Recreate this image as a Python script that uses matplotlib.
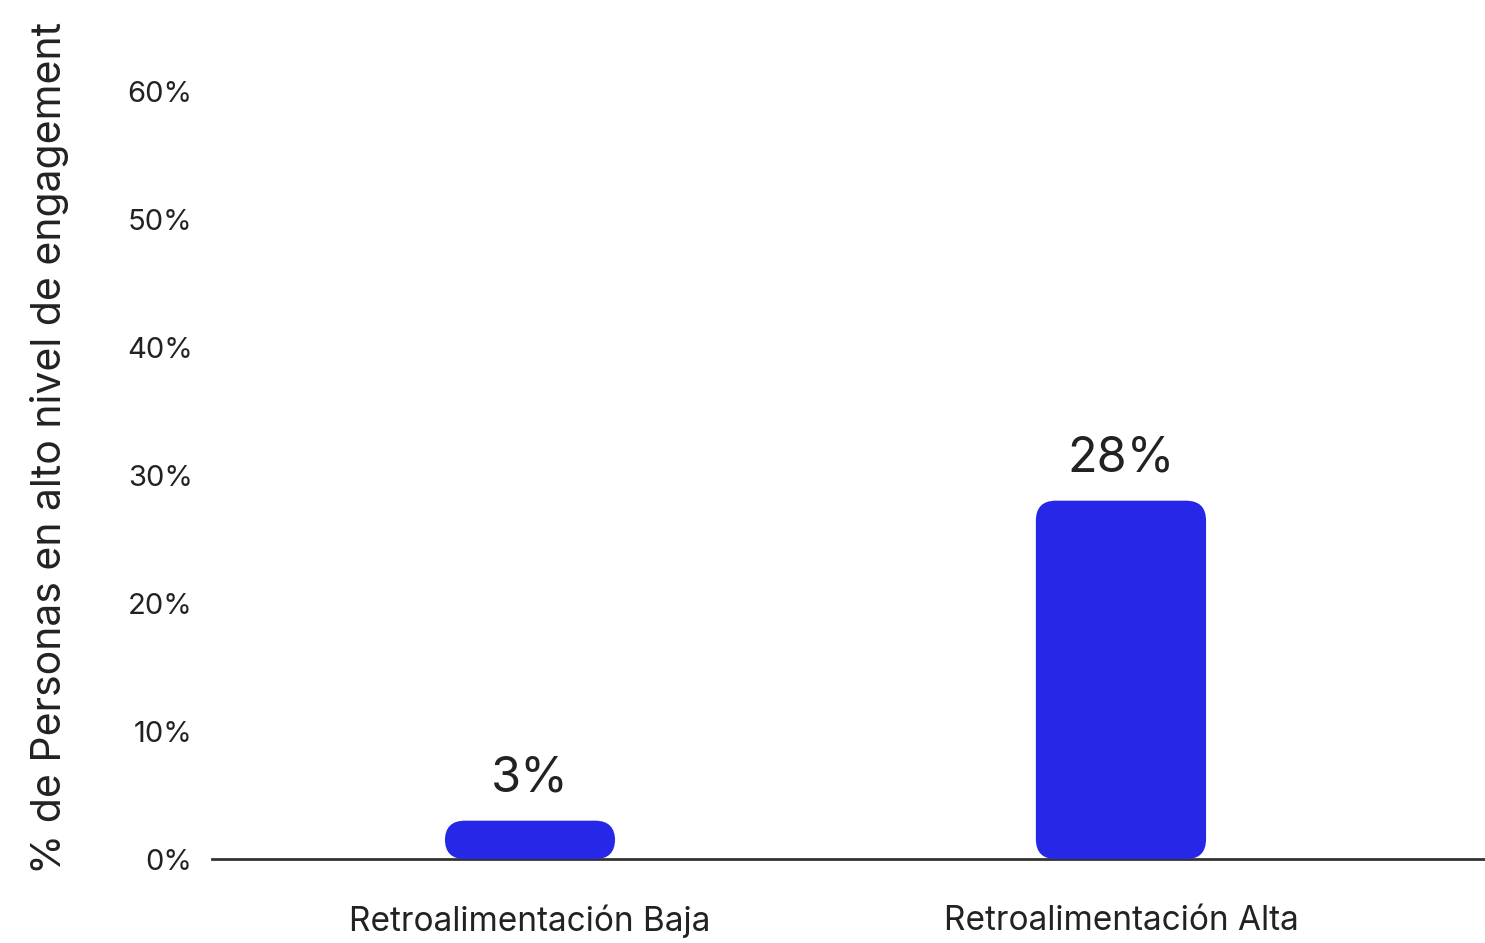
import matplotlib.pyplot as plt
from matplotlib.patches import FancyBboxPatch

categories = ['Retroalimentación Baja', 'Retroalimentación Alta']
values = [3, 28]
yticks = [0, 10, 20, 30, 40, 50, 60]

bar_color = '#2727E8'
text_color = '#222222'
font = ['Inter', 'DejaVu Sans']

fig = plt.figure(figsize=(14.85, 9.43), dpi=100)
ax = fig.add_axes([0.1428, 0.089, 0.8572, 0.82])

px_per_unit = 12.8
ax.set_ylim(0, 0.82 * 943 / px_per_unit)
ax.set_xlim(-0.538, 1.616)

width = 0.288
# rounded corners: ~20px radius in both directions
rx = 20 / 591
ry = 20 / px_per_unit
for i, v in enumerate(values):
    p = FancyBboxPatch((i - width / 2, 0), width, v,
                       boxstyle='round,pad=0,rounding_size=%f' % rx,
                       mutation_aspect=ry / rx,
                       fc=bar_color, ec='none', zorder=3)
    ax.add_patch(p)
    ax.annotate('%d%%' % v, (i, v), xytext=(0, 14), textcoords='offset points',
                ha='center', va='bottom', fontsize=35, color=text_color,
                family=font)

ax.set_xticks(range(len(categories)))
ax.set_xticklabels(categories, fontsize=24, color=text_color, family=font)
ax.set_yticks(yticks)
ax.set_yticklabels(['%d%%' % t for t in yticks], fontsize=21, color=text_color,
                   family=font)
ax.tick_params(axis='both', length=0)
ax.tick_params(axis='x', pad=33)
ax.tick_params(axis='y', pad=14)

for s in ['top', 'right', 'left']:
    ax.spines[s].set_visible(False)
ax.spines['bottom'].set_linewidth(2)
ax.spines['bottom'].set_color('#333333')
ax.spines['bottom'].set_zorder(2)

fig.text(0.033, 0.525, '% de Personas en alto nivel de engagement',
         rotation=90, ha='center', va='center', fontsize=29.5, color=text_color,
         family=font)

fig.savefig('out.png', dpi=100)
